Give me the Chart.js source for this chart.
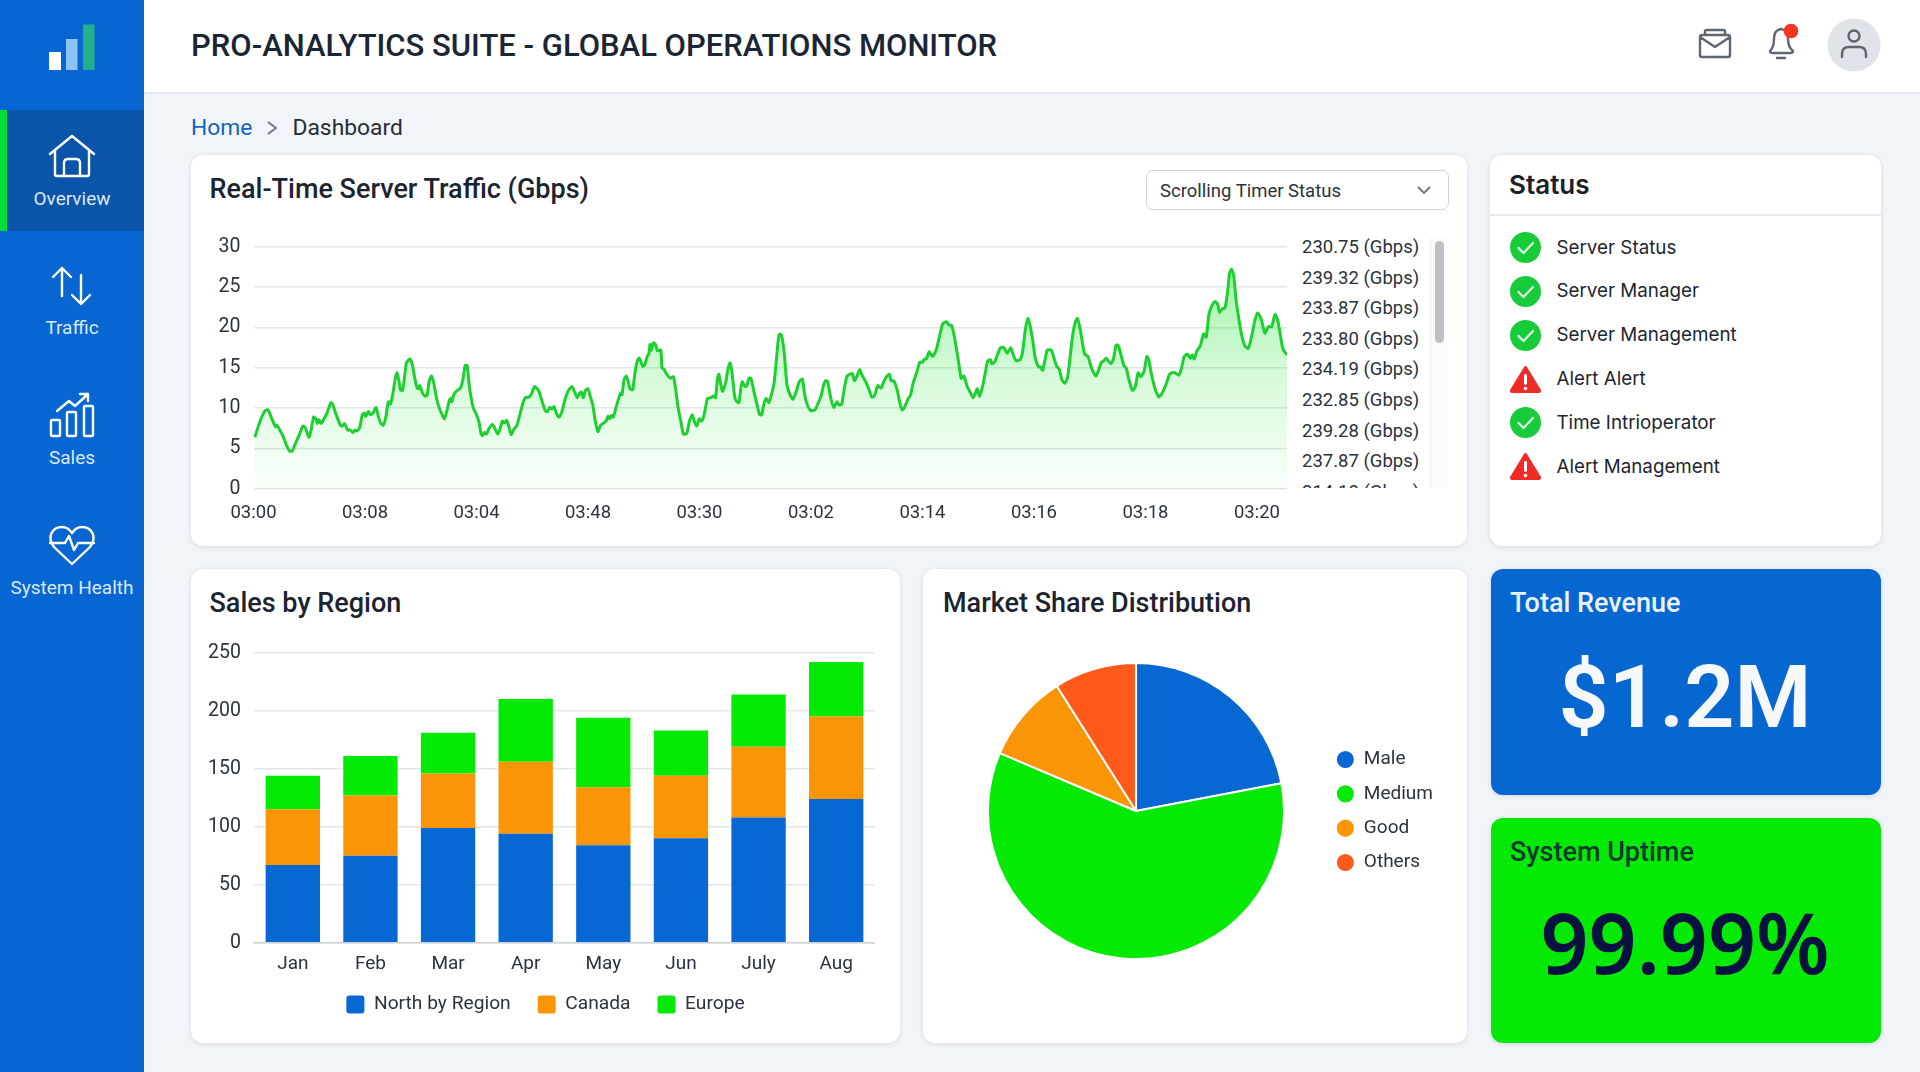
<!DOCTYPE html>
<html lang="en">
<head>
<meta charset="utf-8">
<title>Pro-Analytics Suite</title>
<script src="https://cdn.jsdelivr.net/npm/chart.js@4/dist/chart.umd.min.js"></script>
<style>
*{box-sizing:border-box}
html,body{margin:0;padding:0;width:1920px;height:1072px;overflow:hidden;background:#f1f4f8;font-family:Roboto,sans-serif;color:#1b2533}
.abs{position:absolute}
.mid{position:absolute;transform:translateY(-50%);white-space:nowrap;line-height:1.2}
.ctr{position:absolute;transform:translate(-50%,-50%);white-space:nowrap;line-height:1.2}
.card{position:absolute;background:#fff;border-radius:12px;box-shadow:0 1px 5px rgba(40,60,90,.13)}
.side{position:absolute;left:0;top:0;width:144px;height:1072px;background:#0866d2}
.nav{color:#dbe9fb;font-size:19px}
.title{font-size:27px;font-weight:500;color:#1c2430}
canvas{position:absolute;display:block}
svg{position:absolute;overflow:visible}
#gbps{position:absolute;left:1302px;top:232px;width:125px;height:256px;overflow:hidden;font-size:18.5px;color:#2a313b}
#gbps div{height:30.6px;line-height:30.6px;white-space:nowrap}
</style>
</head>
<body>
<div class="side"></div>
<div class="abs" style="left:0;top:110px;width:144px;height:121px;background:#0a55aa"></div>
<div class="abs" style="left:0;top:110px;width:7px;height:121px;background:#02dc3a"></div>
<svg style="left:0;top:0" width="144" height="100">
  <rect x="49" y="52" width="12" height="18" fill="#fff"/>
  <rect x="66" y="39" width="11.5" height="31" fill="#8fc3f6"/>
  <rect x="83" y="24.5" width="11.5" height="45.5" fill="#22b08e"/>
</svg>
<svg style="left:0;top:125px" width="144" height="60" fill="none" stroke="#fff" stroke-width="2.4" stroke-linecap="round" stroke-linejoin="round">
  <path d="M50 29 L72 11 L94 29 M55 26 V49 Q55 51 57 51 H87 Q89 51 89 49 V26 M64 51 V38 Q64 34 68 34 H76 Q80 34 80 38 V51"/>
</svg>
<svg style="left:0;top:260px" width="144" height="50" fill="none" stroke="#fff" stroke-width="2.4" stroke-linecap="round" stroke-linejoin="round">
  <path d="M62 36 V8 M53 17 L62 8 L71 17 M81 15 V44 M72 35 L81 44 L90 35"/>
</svg>
<svg style="left:0;top:390px" width="144" height="50" fill="none" stroke="#fff" stroke-width="2.4" stroke-linecap="round" stroke-linejoin="round">
  <rect x="51" y="30" width="9" height="16" rx="1"/><rect x="67" y="22" width="9" height="24" rx="1"/><rect x="84" y="16" width="9" height="30" rx="1"/>
  <path d="M57 21 L69 11 L75 16 L88 4 M80 4 H88 V11"/>
</svg>
<svg style="left:0;top:520px" width="144" height="50" fill="none" stroke="#fff" stroke-width="2.4" stroke-linecap="round" stroke-linejoin="round">
  <path d="M54 27 C46 16 53 7 62 7 C67 7 70 10 72 13 C74 10 77 7 82 7 C91 7 98 16 90 27 L72 44 Z"/>
  <path d="M50 23 H65 L69 16 L74 30 L78 23 H94"/>
</svg>
<div class="ctr nav" style="left:72px;top:198.7px">Overview</div>
<div class="ctr nav" style="left:72px;top:328px">Traffic</div>
<div class="ctr nav" style="left:72px;top:458px">Sales</div>
<div class="ctr nav" style="left:72px;top:587.5px">System Health</div>

<div class="abs" style="left:144px;top:0;width:1776px;height:94px;background:#fff;border-bottom:2px solid #e4e7eb"></div>
<div class="mid" style="left:191px;top:46px;font-size:31px;font-weight:500;color:#1b2635">PRO-ANALYTICS SUITE - GLOBAL OPERATIONS MONITOR</div>
<svg style="left:1690px;top:20px" width="180" height="50" fill="none" stroke="#5d6673" stroke-width="2.4" stroke-linecap="round" stroke-linejoin="round">
  <path d="M10 17 Q10 15 12 15 H38 Q40 15 40 17 V35 Q40 37 38 37 H12 Q10 37 10 35 Z M10 17 L25 27 L40 17 M15 15 V11 Q15 10 17 10 H33 Q35 10 35 11 V15"/>
  <path d="M80 31 Q84 27 84 19 Q84 10 91 9 Q98 10 98 19 Q98 27 103 31 Q103 33 100 33 H83 Q80 33 80 31 Z M87 38 H95" />
  <circle cx="101" cy="11" r="7.3" fill="#f5361f" stroke="none"/>
  <circle cx="164" cy="25" r="26.5" fill="#e0e3e7" stroke="none"/>
  <circle cx="164" cy="16" r="5.5"/>
  <path d="M152 37 V34 Q152 27 159 27 H169 Q176 27 176 34 V37"/>
</svg>

<div class="mid" style="left:191px;top:127.5px;font-size:22.8px;color:#1565b8">Home</div>
<svg style="left:266px;top:120px" width="14" height="16" fill="none" stroke="#6b737e" stroke-width="1.8"><path d="M2 2 L10 8 L2 14"/></svg>
<div class="mid" style="left:292.5px;top:127.5px;font-size:22.8px;color:#262d36">Dashboard</div>

<div class="card" style="left:191px;top:155px;width:1276px;height:391px"></div>
<div class="mid title" style="left:209.5px;top:189px">Real-Time Server Traffic (Gbps)</div>
<div class="abs" style="left:1145.5px;top:170px;width:303px;height:40px;border:1.5px solid #cfd3d8;border-radius:7px"></div>
<div class="mid" style="left:1160px;top:190.5px;font-size:18.5px;color:#2b323c">Scrolling Timer Status</div>
<svg style="left:1416px;top:185px" width="16" height="10" fill="none" stroke="#6b737e" stroke-width="1.8"><path d="M2 2 L8 8 L14 2"/></svg>
<canvas id="trafficChart" width="1102" height="309" style="left:191px;top:222px"></canvas>
<div id="gbps"></div>
<div class="abs" style="left:1430px;top:238px;width:17px;height:250px;background:#fbfbfc;border-left:1px solid #eef0f2"></div>
<div class="abs" style="left:1434.5px;top:241px;width:9.5px;height:102px;background:#bdc1c6;border-radius:5px"></div>

<div class="card" style="left:1490px;top:155px;width:391px;height:391px"></div>
<div class="mid" style="left:1509px;top:185px;font-family:Inter,sans-serif;font-size:26px;font-weight:600;color:#1a2029">Status</div>
<div class="abs" style="left:1490px;top:214px;width:391px;height:2px;background:#e8eaed"></div>
<div id="statusList"></div>

<div class="card" style="left:191px;top:569px;width:709px;height:474px"></div>
<div class="mid title" style="left:209.5px;top:603px">Sales by Region</div>
<canvas id="salesChart" width="684" height="404" style="left:191px;top:628px"></canvas>

<div class="card" style="left:923px;top:569px;width:544px;height:474px"></div>
<div class="mid title" style="left:943px;top:603px">Market Share Distribution</div>
<canvas id="shareChart" width="492" height="298" style="left:951px;top:662px"></canvas>

<div class="card" style="left:1490.5px;top:569px;width:390px;height:226px;background:#0767d1"></div>
<div class="mid" style="left:1510px;top:602.5px;font-size:27px;font-weight:500;color:#e9f2fd">Total Revenue</div>
<div class="ctr" style="left:1685px;top:696.5px;font-size:88px;font-weight:600;color:#f6f8fb">$1.2M</div>

<div class="card" style="left:1490.5px;top:817.5px;width:390px;height:225.5px;background:#05ea05"></div>
<div class="mid" style="left:1510px;top:851.5px;font-size:27px;font-weight:500;color:#063a2e">System Uptime</div>
<div class="ctr" style="left:1685px;top:941.5px;font-family:'Noto Sans',sans-serif;font-size:84px;font-weight:600;color:#06123f">99.99%</div>

<script>
const trafficTickLabels = ["03:00","03:08","03:04","03:48","03:30","03:02","03:14","03:16","03:18","03:20"];
const trafficTickStep = 334;
const trafficEnd = 3096;
const trafficSamples = [
[4,6.4],[10,7.2],[18,8.2],[28,9.2],[35,9.7],[44,9.8],[50,9.2],[58,8.4],[66,7.7],[70,7.9],[80,7.2],[90,6.4],[100,5.3],[108,4.7],[116,4.7],[124,5.5],[136,6.6],[148,7.8],[155,7.6],[166,6.4],[173,7.4],[180,8.9],[187,8.7],[191,8.1],[196,8.6],[202,8.1],[210,8.6],[220,9.4],[232,10.7],[238,10.4],[246,9.4],[255,8.4],[260,7.9],[266,7.8],[273,8.1],[282,7.3],[290,7.3],[298,7.0],[304,7.3],[310,7.2],[318,7.6],[326,9.2],[332,9.4],[336,9.0],[344,9.6],[350,9.2],[358,9.4],[367,10.1],[375,8.8],[382,8.1],[388,7.9],[396,8.8],[404,10.8],[410,10.5],[417,11.7],[424,13.5],[430,14.4],[436,13.3],[440,12.3],[446,12.2],[452,13.7],[458,15.6],[468,16.1],[476,15.4],[482,14.0],[488,12.8],[493,12.4],[498,12.8],[506,11.9],[514,11.5],[520,11.6],[526,13.3],[533,14.0],[540,13.1],[548,11.3],[556,10.1],[564,9.3],[572,8.7],[580,9.8],[586,10.9],[590,11.2],[594,10.8],[600,11.7],[610,12.2],
[620,12.5],[628,13.7],[634,15.3],[640,15.3],[646,12.9],[652,11.3],[658,10.1],[668,9.2],[676,8.2],[682,6.8],[686,6.6],[692,7.0],[698,6.8],[704,7.4],[716,8.0],[724,7.4],[732,6.8],[740,7.6],[745,8.4],[752,8.2],[758,8.5],[766,7.6],[772,6.7],[780,7.4],[788,7.8],[798,9.2],[806,10.5],[814,11.3],[826,11.4],[834,11.9],[842,12.7],[855,12.1],[864,10.9],[874,9.7],[880,9.6],[888,10.1],[894,9.9],[900,10.2],[908,9.3],[915,8.9],[924,9.6],[932,10.9],[942,12.1],[954,12.7],[964,11.8],[970,11.3],[978,11.9],[982,12.0],[988,11.3],[994,12.2],[1002,12.4],[1010,11.3],[1016,10.5],[1024,8.4],[1032,7.1],[1040,7.9],[1050,8.2],[1056,8.4],[1062,9.0],[1068,8.7],[1072,9.1],[1078,8.9],[1086,10.1],[1096,11.5],[1100,11.9],[1104,11.7],[1110,13.5],[1116,14.0],[1122,13.4],[1128,12.4],[1136,12.3],[1142,14.2],[1150,15.9],[1156,16.2],[1166,15.2],[1172,15.4],[1180,16.5],[1184,16.7],[1188,17.9],[1192,17.2],[1198,18.1],[1204,17.9],[1210,17.1],[1220,17.2],[1224,15.0],[1230,14.8],[1238,14.2],
[1250,13.7],[1258,13.9],[1264,12.5],[1272,10.1],[1280,8.4],[1288,6.8],[1298,6.9],[1306,8.4],[1314,9.2],[1322,8.2],[1328,7.8],[1335,8.7],[1342,8.4],[1350,9.2],[1360,11.2],[1370,11.3],[1378,11.5],[1384,11.3],[1390,13.7],[1394,14.2],[1400,12.9],[1405,12.1],[1415,13.3],[1422,15.0],[1428,15.6],[1434,14.2],[1442,11.3],[1448,10.8],[1454,10.7],[1460,12.5],[1464,13.3],[1472,12.7],[1478,12.8],[1484,13.7],[1490,13.7],[1500,11.9],[1508,10.5],[1516,9.2],[1522,9.2],[1530,10.7],[1536,11.2],[1544,10.7],[1554,12.1],[1560,13.3],[1566,15.8],[1572,18.5],[1576,19.2],[1582,19.0],[1590,16.8],[1598,12.9],[1606,11.8],[1616,11.1],[1626,12.1],[1635,13.3],[1644,13.6],[1652,11.5],[1660,10.3],[1670,9.7],[1682,9.8],[1690,10.5],[1700,11.5],[1708,12.9],[1714,13.4],[1720,13.3],[1728,11.5],[1738,10.1],[1748,10.8],[1754,10.4],[1762,10.5],[1770,12.5],[1778,14.0],[1786,14.2],[1794,14.3],[1800,13.4],[1808,14.0],[1816,14.8],[1824,14.0],[1834,13.3],[1844,12.3],[1852,11.4],[1860,11.5],[1870,12.8],
[1880,12.5],[1888,13.3],[1898,14.0],[1905,14.2],[1910,13.4],[1918,13.4],[1928,12.3],[1936,10.7],[1943,9.8],[1950,10.1],[1960,11.1],[1968,11.6],[1976,13.1],[1988,14.6],[1996,15.7],[2004,15.7],[2010,16.1],[2016,16.1],[2024,17.0],[2034,16.4],[2045,17.2],[2055,18.9],[2065,20.5],[2076,20.7],[2084,20.3],[2092,20.2],[2102,18.3],[2112,15.8],[2120,13.7],[2128,14.0],[2138,12.7],[2148,11.9],[2156,11.3],[2162,11.8],[2168,12.4],[2175,11.5],[2184,12.7],[2194,14.8],[2200,15.9],[2208,16.0],[2212,15.5],[2220,15.7],[2230,16.8],[2238,17.5],[2248,17.5],[2258,16.8],[2268,17.5],[2276,16.6],[2284,15.9],[2296,16.0],[2304,17.0],[2312,19.7],[2320,21.1],[2326,20.3],[2334,18.5],[2342,16.2],[2352,15.1],[2358,15.1],[2364,14.7],[2370,15.8],[2378,17.2],[2390,17.2],[2398,16.2],[2406,15.2],[2414,14.8],[2422,13.5],[2430,13.1],[2438,13.7],[2446,16.2],[2454,19.1],[2462,20.7],[2468,21.1],[2476,19.9],[2484,17.9],[2490,16.7],[2500,16.4],
[2510,15.0],[2518,14.3],[2524,14.0],[2532,14.8],[2540,15.7],[2546,15.8],[2554,16.2],[2560,15.9],[2568,15.5],[2576,16.1],[2584,17.8],[2590,17.8],[2600,16.4],[2608,15.2],[2614,15.0],[2622,13.6],[2630,12.5],[2634,12.2],[2642,12.7],[2650,14.4],[2658,13.9],[2668,14.6],[2676,16.4],[2682,16.0],[2690,14.2],[2700,12.5],[2712,11.4],[2722,11.9],[2734,13.0],[2744,14.2],[2752,14.4],[2760,14.4],[2772,14.1],[2780,15.0],[2788,16.4],[2798,16.7],[2806,16.2],[2812,16.6],[2818,16.1],[2826,17.1],[2836,17.7],[2846,19.2],[2854,18.8],[2862,21.6],[2870,22.6],[2880,23.2],[2888,22.9],[2894,21.9],[2902,22.3],[2910,22.4],[2918,24.4],[2924,26.7],[2930,27.2],[2936,26.5],[2944,23.2],[2954,20.5],[2962,18.7],[2970,17.7],[2980,17.4],[2990,18.9],[3000,20.9],[3008,21.8],[3018,21.1],[3030,19.3],[3040,20.1],[3050,20.1],[3060,21.6],[3068,20.9],[3076,19.1],[3084,17.3],[3096,16.6]
];
const gbpsReadings = ["230.75","239.32","233.87","233.80","234.19","232.85","239.28","237.87","214.18"];

const salesMonths = ["Jan","Feb","Mar","Apr","May","Jun","July","Aug"];
const salesNorth = [67,75,99,94,84,90,108,124];
const salesCanada = [48,52,47,62,50,54,61,71];
const salesEurope = [29,34,35,54,60,39,45,47];

const shareLabels = ["Male","Medium","Good","Others"];
const shareValues = [22,59.4,9.6,9];

const statusNames = ["Server Status","Server Manager","Server Management","Alert Alert","Time Intrioperator","Alert Management"];
const statusStates = ["ok","ok","ok","alert","ok","alert"];

const BLUE="#0767d3", ORANGE="#fb9508", GREEN="#05ea05", RED="#ff5a1a";
const TICK_COLOR="#2c333d", GRID="#e2e5e9";
Chart.defaults.font.family="Roboto, sans-serif";
Chart.defaults.font.size=18;
Chart.defaults.color=TICK_COLOR;
Chart.defaults.animation=false;

document.getElementById("gbps").innerHTML = gbpsReadings.map(v=>"<div>"+v+" (Gbps)</div>").join("");

const okIcon='<circle cx="15.5" cy="15.5" r="15.5" fill="#17cb3b"/><path d="M8.5 16 L13.5 21 L23 11" fill="none" stroke="#dff8e3" stroke-width="2.2" stroke-linecap="round" stroke-linejoin="round"/>';
const alertIcon='<path d="M15.5 2 Q16.5 2 17 3 L31 26 Q31.5 29 29 29 H2 Q-.5 29 0 26 L14 3 Q14.5 2 15.5 2 Z" fill="#ee2b26"/><rect x="14" y="10" width="3" height="11" rx="1.4" fill="#fff"/><circle cx="15.5" cy="24.5" r="1.8" fill="#fff"/>';
document.getElementById("statusList").innerHTML = statusNames.map((n,i)=>{
  const y=247.6+i*43.8;
  return '<svg style="left:1510px;top:'+(y-15.5)+'px" width="31" height="31">'+(statusStates[i]==="ok"?okIcon:alertIcon)+'</svg>'+
    '<div class="mid" style="left:1556.5px;top:'+y+'px;font-family:Inter,sans-serif;font-size:18.8px;color:#1d2530">'+n+'</div>';
}).join("");

new Chart(document.getElementById("trafficChart"),{
  type:"line",
  data:{datasets:[{
    data:trafficSamples.map(s=>({x:s[0],y:s[1]})),
    borderColor:"#1dd02f",borderWidth:3,pointRadius:0,tension:.2,fill:"origin",
    backgroundColor:(c)=>{
      const a=c.chart.chartArea; if(!a) return "transparent";
      const g=c.chart.ctx.createLinearGradient(0,a.top,0,a.bottom);
      g.addColorStop(0,"rgba(20,225,40,.42)");
      g.addColorStop(.55,"rgba(20,225,40,.17)");
      g.addColorStop(1,"rgba(20,225,40,.02)");
      return g;
    }
  }]},
  options:{
    responsive:false,
    plugins:{legend:{display:false},tooltip:{enabled:false}},
    scales:{
      x:{type:"linear",min:0,max:trafficEnd,
        afterBuildTicks:(ax)=>{ax.ticks=trafficTickLabels.map((_,i)=>({value:i*trafficTickStep}));},
        afterFit:(ax)=>{ax.height=42;},
        grid:{display:false,drawTicks:false},border:{display:false},
        ticks:{padding:13,maxRotation:0,autoSkip:false,font:{size:18.5},callback:(v)=>trafficTickLabels[Math.round(v/trafficTickStep)]}},
      y:{min:0,max:30,afterFit:(ax)=>{ax.width=62.5;},
        grid:{color:GRID,lineWidth:1.5,drawTicks:false},border:{display:false},
        ticks:{stepSize:5,padding:13,font:{size:19.5}}}
    }
  }
});

const legendNudge={id:"legendNudge",afterLayout(chart){
  const l=chart.legend;
  l.top-=8;l.bottom-=8;l.left+=12.5;l.right+=12.5;
}};
new Chart(document.getElementById("salesChart"),{
  type:"bar",
  data:{labels:salesMonths,datasets:[
    {label:"North by Region",data:salesNorth,backgroundColor:BLUE},
    {label:"Canada",data:salesCanada,backgroundColor:ORANGE},
    {label:"Europe",data:salesEurope,backgroundColor:GREEN}
  ]},
  plugins:[legendNudge],
  options:{
    responsive:false,
    datasets:{bar:{barPercentage:.7,categoryPercentage:1}},
    plugins:{tooltip:{enabled:false},
      legend:{position:"bottom",labels:{boxWidth:18,boxHeight:18,useBorderRadius:true,borderRadius:3,padding:27,color:TICK_COLOR,font:{size:19.2}}}},
    scales:{
      x:{stacked:true,grid:{display:false,drawTicks:false},border:{color:"#cfd3d8",width:1.5},afterFit:(ax)=>{ax.height=33;},ticks:{padding:10,maxRotation:0,autoSkip:false,font:{size:19}}},
      y:{stacked:true,min:0,max:250,afterFit:(ax)=>{ax.width=63;},grid:{color:GRID,lineWidth:1.5,drawTicks:false},border:{display:false},ticks:{stepSize:50,padding:13,font:{size:19.5}}}
    }
  }
});

new Chart(document.getElementById("shareChart"),{
  type:"pie",
  data:{labels:shareLabels,datasets:[{data:shareValues,backgroundColor:[BLUE,GREEN,ORANGE,RED],borderColor:"#fff",borderWidth:2}]},
  options:{
    responsive:false,
    plugins:{tooltip:{enabled:false},
      legend:{position:"right",labels:{usePointStyle:true,pointStyle:"circle",boxWidth:18,boxHeight:13.5,padding:15.3,color:TICK_COLOR,font:{size:19}}}}
  }
});
</script>
</body>
</html>
